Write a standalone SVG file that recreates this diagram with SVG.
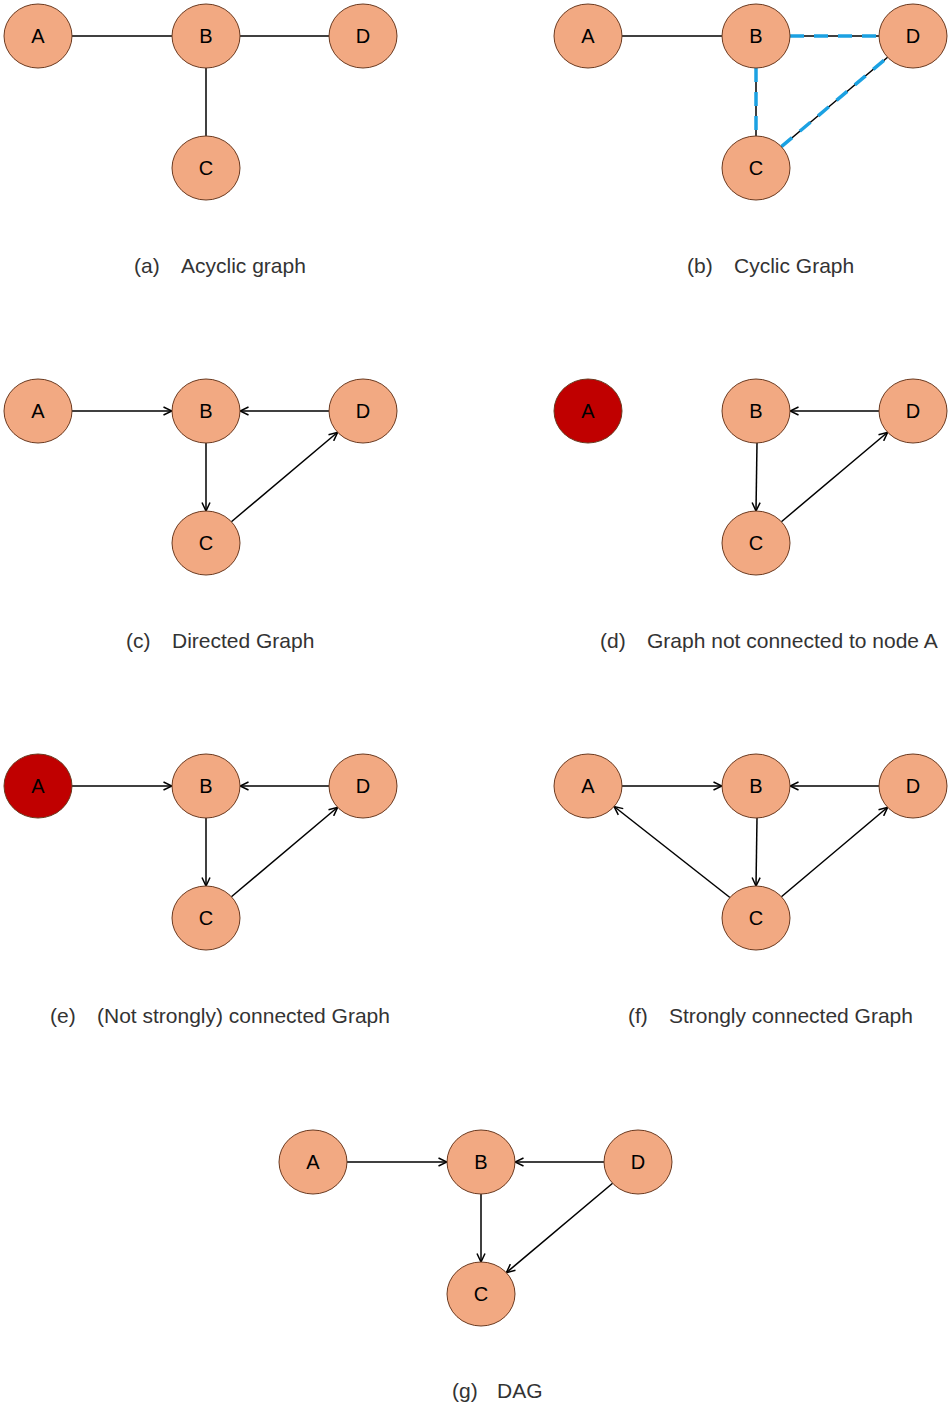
<svg xmlns="http://www.w3.org/2000/svg" width="948" height="1410" viewBox="0 0 948 1410">
  <defs>
    <marker id="arrow" viewBox="0 0 10 10" refX="9.5" refY="5" markerWidth="10" markerHeight="10" markerUnits="userSpaceOnUse" orient="auto">
      <path d="M1,1 L9.5,5 L1,9" fill="none" stroke="#000" stroke-width="1.5"/>
    </marker>
    <style>
      .node ellipse { fill: #f2a982; stroke: #6b3a20; stroke-width: 1; }
      .node.red ellipse { fill: #c00000; }
      .node text { font-family: "Liberation Sans", Arial, sans-serif; font-size: 20px; fill: #000; text-anchor: middle; }
      .edge { stroke: #000; stroke-width: 1.5; fill: none; }
      .arrow { marker-end: url(#arrow); }
      .cycle { stroke: #1ba1e2; stroke-width: 3.5; stroke-dasharray: 14 10; fill: none; }
      .caption { font-family: "Liberation Sans", Arial, sans-serif; font-size: 21px; fill: #333; }
    </style>
  </defs>

  <!-- connectors -->
  <g id="connectors">
    <!-- (a) acyclic -->
    <line class="edge" x1="72" y1="36" x2="172" y2="36"/>
    <line class="edge" x1="240" y1="36" x2="329" y2="36"/>
    <line class="edge" x1="206" y1="68" x2="206" y2="136"/>
    <!-- (b) cyclic -->
    <line class="edge" x1="622" y1="36" x2="722" y2="36"/>
    <line class="edge" x1="790" y1="36" x2="879" y2="36"/>
    <line class="edge" x1="756" y1="68" x2="756" y2="136"/>
    <line class="edge" x1="781.4" y1="146.7" x2="887.6" y2="57.3"/>
    <line class="cycle" x1="790" y1="36" x2="879" y2="36"/>
    <line class="cycle" x1="756" y1="68" x2="756" y2="136"/>
    <line class="cycle" x1="781.4" y1="146.7" x2="887.6" y2="57.3"/>
    <!-- (c) directed -->
    <line class="edge arrow" x1="72" y1="411" x2="172" y2="411"/>
    <line class="edge arrow" x1="329" y1="411" x2="240" y2="411"/>
    <line class="edge arrow" x1="206" y1="443" x2="206" y2="511"/>
    <line class="edge arrow" x1="231.4" y1="521.7" x2="337.6" y2="432.3"/>
    <!-- (d) A disconnected -->
    <line class="edge arrow" x1="879" y1="411" x2="790" y2="411"/>
    <line class="edge arrow" x1="757" y1="443" x2="756" y2="511"/>
    <line class="edge arrow" x1="781.4" y1="521.7" x2="887.6" y2="432.3"/>
    <!-- (e) not strongly connected -->
    <line class="edge arrow" x1="72" y1="786" x2="172" y2="786"/>
    <line class="edge arrow" x1="329" y1="786" x2="240" y2="786"/>
    <line class="edge arrow" x1="206" y1="818" x2="206" y2="886"/>
    <line class="edge arrow" x1="231.4" y1="896.7" x2="337.6" y2="807.3"/>
    <!-- (f) strongly connected -->
    <line class="edge arrow" x1="622" y1="786" x2="722" y2="786"/>
    <line class="edge arrow" x1="879" y1="786" x2="790" y2="786"/>
    <line class="edge arrow" x1="757" y1="818" x2="756" y2="886"/>
    <line class="edge arrow" x1="781.4" y1="896.7" x2="887.6" y2="807.3"/>
    <line class="edge arrow" x1="729.9" y1="897.5" x2="614.1" y2="806.5"/>
    <!-- (g) DAG -->
    <line class="edge arrow" x1="347" y1="1162" x2="447" y2="1162"/>
    <line class="edge arrow" x1="604" y1="1162" x2="515" y2="1162"/>
    <line class="edge arrow" x1="481" y1="1194" x2="481" y2="1262"/>
    <line class="edge arrow" x1="612.6" y1="1183.3" x2="506.4" y2="1272.7"/>
  </g>

  <!-- (a) -->
  <g id="a-A" class="node"><ellipse cx="38" cy="36" rx="34" ry="32"/><text x="38" y="43">A</text></g>
  <g id="a-B" class="node"><ellipse cx="206" cy="36" rx="34" ry="32"/><text x="206" y="43">B</text></g>
  <g id="a-D" class="node"><ellipse cx="363" cy="36" rx="34" ry="32"/><text x="363" y="43">D</text></g>
  <g id="a-C" class="node"><ellipse cx="206" cy="168" rx="34" ry="32"/><text x="206" y="175">C</text></g>

  <!-- (b) -->
  <g id="b-A" class="node"><ellipse cx="588" cy="36" rx="34" ry="32"/><text x="588" y="43">A</text></g>
  <g id="b-B" class="node"><ellipse cx="756" cy="36" rx="34" ry="32"/><text x="756" y="43">B</text></g>
  <g id="b-D" class="node"><ellipse cx="913" cy="36" rx="34" ry="32"/><text x="913" y="43">D</text></g>
  <g id="b-C" class="node"><ellipse cx="756" cy="168" rx="34" ry="32"/><text x="756" y="175">C</text></g>

  <!-- (c) -->
  <g id="c-A" class="node"><ellipse cx="38" cy="411" rx="34" ry="32"/><text x="38" y="418">A</text></g>
  <g id="c-B" class="node"><ellipse cx="206" cy="411" rx="34" ry="32"/><text x="206" y="418">B</text></g>
  <g id="c-D" class="node"><ellipse cx="363" cy="411" rx="34" ry="32"/><text x="363" y="418">D</text></g>
  <g id="c-C" class="node"><ellipse cx="206" cy="543" rx="34" ry="32"/><text x="206" y="550">C</text></g>

  <!-- (d) -->
  <g id="d-A" class="node red"><ellipse cx="588" cy="411" rx="34" ry="32"/><text x="588" y="418">A</text></g>
  <g id="d-B" class="node"><ellipse cx="756" cy="411" rx="34" ry="32"/><text x="756" y="418">B</text></g>
  <g id="d-D" class="node"><ellipse cx="913" cy="411" rx="34" ry="32"/><text x="913" y="418">D</text></g>
  <g id="d-C" class="node"><ellipse cx="756" cy="543" rx="34" ry="32"/><text x="756" y="550">C</text></g>

  <!-- (e) -->
  <g id="e-A" class="node red"><ellipse cx="38" cy="786" rx="34" ry="32"/><text x="38" y="793">A</text></g>
  <g id="e-B" class="node"><ellipse cx="206" cy="786" rx="34" ry="32"/><text x="206" y="793">B</text></g>
  <g id="e-D" class="node"><ellipse cx="363" cy="786" rx="34" ry="32"/><text x="363" y="793">D</text></g>
  <g id="e-C" class="node"><ellipse cx="206" cy="918" rx="34" ry="32"/><text x="206" y="925">C</text></g>

  <!-- (f) -->
  <g id="f-A" class="node"><ellipse cx="588" cy="786" rx="34" ry="32"/><text x="588" y="793">A</text></g>
  <g id="f-B" class="node"><ellipse cx="756" cy="786" rx="34" ry="32"/><text x="756" y="793">B</text></g>
  <g id="f-D" class="node"><ellipse cx="913" cy="786" rx="34" ry="32"/><text x="913" y="793">D</text></g>
  <g id="f-C" class="node"><ellipse cx="756" cy="918" rx="34" ry="32"/><text x="756" y="925">C</text></g>

  <!-- (g) -->
  <g id="g-A" class="node"><ellipse cx="313" cy="1162" rx="34" ry="32"/><text x="313" y="1169">A</text></g>
  <g id="g-B" class="node"><ellipse cx="481" cy="1162" rx="34" ry="32"/><text x="481" y="1169">B</text></g>
  <g id="g-D" class="node"><ellipse cx="638" cy="1162" rx="34" ry="32"/><text x="638" y="1169">D</text></g>
  <g id="g-C" class="node"><ellipse cx="481" cy="1294" rx="34" ry="32"/><text x="481" y="1301">C</text></g>

  <!-- captions -->
  <g id="captions">
    <text class="caption" x="134" y="273">(a)</text><text class="caption" x="181" y="273">Acyclic graph</text>
    <text class="caption" x="687" y="273">(b)</text><text class="caption" x="734" y="273">Cyclic Graph</text>
    <text class="caption" x="126" y="648">(c)</text><text class="caption" x="172" y="648">Directed Graph</text>
    <text class="caption" x="600" y="648">(d)</text><text class="caption" x="647" y="648">Graph not connected to node A</text>
    <text class="caption" x="50" y="1023">(e)</text><text class="caption" x="97" y="1023">(Not strongly) connected Graph</text>
    <text class="caption" x="628" y="1023">(f)</text><text class="caption" x="669" y="1023">Strongly connected Graph</text>
    <text class="caption" x="452" y="1398">(g)</text><text class="caption" x="497" y="1398">DAG</text>
  </g>
</svg>
